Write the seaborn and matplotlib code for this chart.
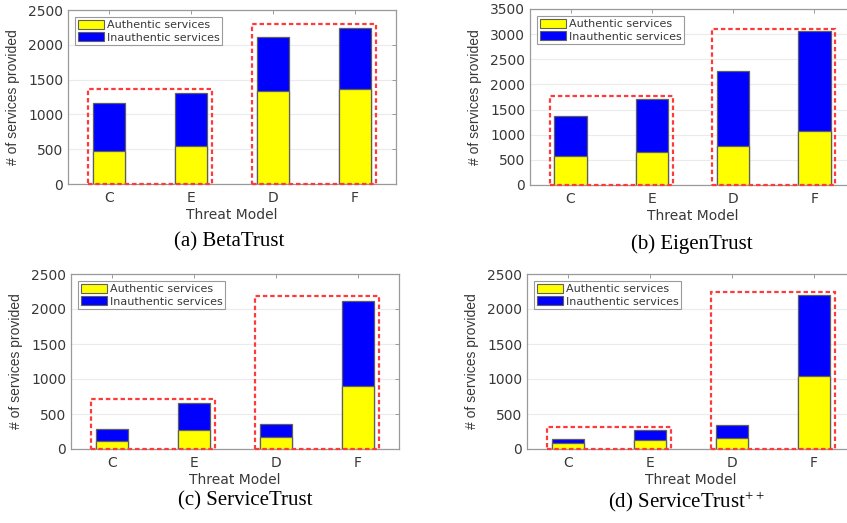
import matplotlib
matplotlib.use("Agg")
import matplotlib.pyplot as plt
from matplotlib.patches import Patch, Rectangle
import seaborn as sns
import numpy as np

# Threat models on the x axis (grouped as C/E and D/F)
categories = ["C", "E", "D", "F"]

# Services provided per trust model: authentic and inauthentic counts
beta_authentic = [470, 550, 1330, 1360]
beta_inauthentic = [690, 755, 775, 885]

eigen_authentic = [570, 665, 775, 1065]
eigen_inauthentic = [810, 1045, 1495, 1990]

st_authentic = [120, 270, 170, 900]
st_inauthentic = [165, 385, 190, 1220]

stpp_authentic = [85, 125, 160, 1040]
stpp_inauthentic = [65, 150, 180, 1155]

# Heights of the dashed outlines around the two threat-model groups
beta_group_tops = [1360, 2300]
eigen_group_tops = [1760, 3100]
st_group_tops = [720, 2180]
stpp_group_tops = [320, 2250]

y_limits = [2500, 3500, 2500, 2500]
captions = ["(a) BetaTrust", "(b) EigenTrust", "(c) ServiceTrust",
            r"(d) ServiceTrust$\mathregular{^{++}}$"]

sns.set_style("white")
plt.rcParams["font.family"] = ["DejaVu Sans"]

YELLOW = "#ffff00"
BLUE = "#0000ff"
EDGE = "#5f5f5f"
AXIS = "#9a9a9a"
TEXT = "#383838"
RED = "#ff3a3a"

fig = plt.figure(figsize=(8.47, 5.23), dpi=100)

axes_rects = [
    [68 / 847, 1 - 184 / 523, 328 / 847, 174 / 523],
    [530 / 847, 1 - 185 / 523, 325 / 847, 176 / 523],
    [71 / 847, 1 - 449 / 523, 328 / 847, 175 / 523],
    [527 / 847, 1 - 449 / 523, 328 / 847, 175 / 523],
]
caption_pos = [(229, 242), (692, 244), (245, 501), (687, 502)]

panels = [
    (beta_authentic, beta_inauthentic, beta_group_tops),
    (eigen_authentic, eigen_inauthentic, eigen_group_tops),
    (st_authentic, st_inauthentic, st_group_tops),
    (stpp_authentic, stpp_inauthentic, stpp_group_tops),
]

for i, (auth, inauth, tops) in enumerate(panels):
    ax = fig.add_axes(axes_rects[i])
    totals = list(np.array(auth) + np.array(inauth))

    # stacked bars: full height in blue, authentic part in yellow on top
    sns.barplot(x=categories, y=totals, color=BLUE, saturation=1,
                width=0.4, errorbar=None, edgecolor=EDGE, linewidth=0.9,
                ax=ax, zorder=2)
    sns.barplot(x=categories, y=auth, color=YELLOW, saturation=1,
                width=0.4, errorbar=None, edgecolor=EDGE, linewidth=0.9,
                ax=ax, zorder=3)

    ax.set_xlim(-0.5, 3.5)
    ax.set_ylim(0, y_limits[i])
    ax.set_yticks(np.arange(0, y_limits[i] + 1, 500))
    ax.yaxis.grid(True, color="#ebebeb", linewidth=0.8, zorder=0)
    ax.set_axisbelow(True)

    for sp in ax.spines.values():
        sp.set_color(AXIS)
        sp.set_linewidth(0.9)
    ax.tick_params(direction="in", top=True, right=True, length=3,
                   width=0.7, color=AXIS, labelcolor=TEXT, labelsize=10)
    ax.tick_params(axis="y", pad=3.5)
    ax.tick_params(axis="x", pad=5)

    ax.set_xlabel("Threat Model", fontsize=10, color=TEXT, labelpad=2)
    ax.set_ylabel("# of services provided", fontsize=10, color=TEXT,
                  family=["Liberation Sans"], labelpad=6)

    # dashed outlines marking the two threat-model groups
    groups = [(0, 1), (2, 3)]
    for (a, b), top in zip(groups, tops):
        x0 = a - 0.26
        x1 = b + 0.255
        rect = Rectangle((x0, 0), x1 - x0, top, fill=False,
                         edgecolor=RED, linewidth=1.6,
                         linestyle=(0, (2.0, 1.3)), zorder=5,
                         clip_on=False)
        ax.add_patch(rect)

    handles = [Patch(facecolor=YELLOW, edgecolor=EDGE, linewidth=0.8,
                     label="Authentic services"),
               Patch(facecolor=BLUE, edgecolor=EDGE, linewidth=0.8,
                     label="Inauthentic services")]
    leg = ax.legend(handles=handles, loc="upper left", fontsize=8,
                    frameon=True, fancybox=False, framealpha=1,
                    edgecolor="#9a9a9a", handlelength=2.3,
                    handleheight=0.9, handletextpad=0.3,
                    borderpad=0.25, labelspacing=0.15,
                    borderaxespad=0.65)
    leg.get_frame().set_linewidth(0.8)
    for t in leg.get_texts():
        t.set_color(TEXT)

    cx, cy = caption_pos[i]
    fig.text(cx / 847, 1 - cy / 523, captions[i], ha="center", va="center",
             fontsize=15, family=["Liberation Serif"], color="black")

fig.savefig("out.png", dpi=100)
